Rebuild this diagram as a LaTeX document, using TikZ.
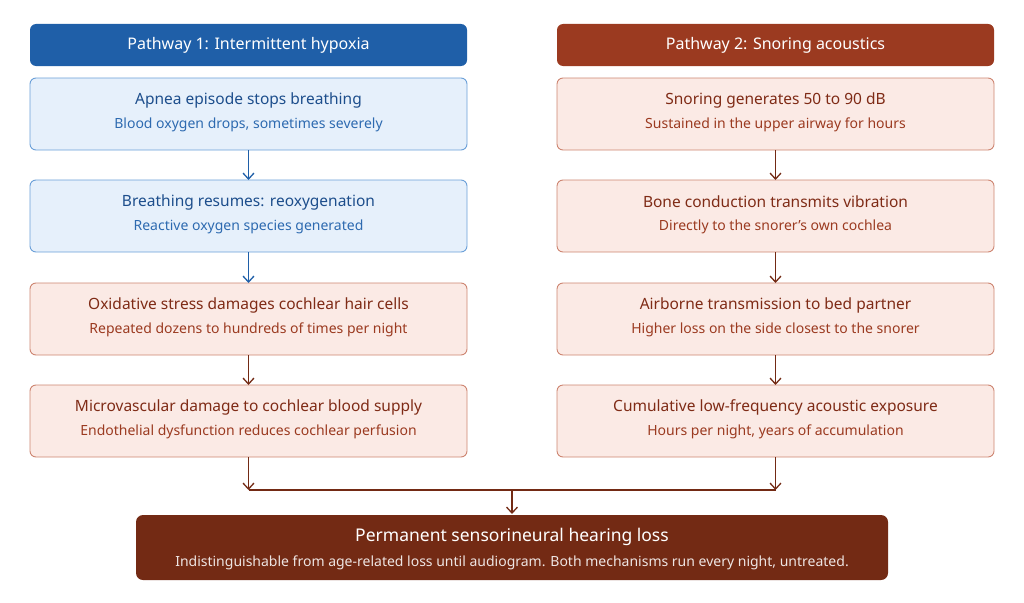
\documentclass[tikz,border=0pt]{standalone}
\usepackage{fontspec}
\setmainfont{Noto Sans}
\usetikzlibrary{arrows.meta}
\definecolor{bhead}{HTML}{1F5FA8}
\definecolor{ohead}{HTML}{9B3A20}
\definecolor{bfill}{HTML}{E6F0FB}
\definecolor{bline}{HTML}{6A9FD8}
\definecolor{btext}{HTML}{1D4E8C}
\definecolor{bsub}{HTML}{2D6AB0}
\definecolor{ofill}{HTML}{FBEAE5}
\definecolor{oline}{HTML}{CD8470}
\definecolor{otext}{HTML}{7F2B16}
\definecolor{osub}{HTML}{9B3A20}
\definecolor{final}{HTML}{732A14}
\begin{document}
\begin{tikzpicture}[x=1pt,y=-1pt,
  head/.style={rounded corners=6pt,text=white,font=\fontsize{16}{19}\selectfont\bfseries},
  bbox/.style={draw=bline,fill=bfill,rounded corners=6pt,line width=0.9pt},
  obox/.style={draw=oline,fill=ofill,rounded corners=6pt,line width=0.9pt},
  ttl/.style={font=\fontsize{15.5}{18}\selectfont\bfseries},
  sub/.style={font=\fontsize{14}{17}\selectfont},
  arr/.style={line width=1.5pt,-{Straight Barb[length=6pt,width=11pt,line width=1.3pt]}},
]
\useasboundingbox (0,0) rectangle (1024,602);
\fill[bhead,rounded corners=6pt] (30,24) rectangle (467,66);
\node[head] (h1) at (248.5,45) {Pathway 1: Intermittent hypoxia};
\fill[ohead,rounded corners=6pt] (557,24) rectangle (994,66);
\node[head] (h2) at (775.5,45) {Pathway 2: Snoring acoustics};

% left column
\newcommand{\mybox}[7]{%
  \path[#1] (#2,#3) rectangle ++(437,72);
  \node[ttl,text=#4] at (#2+218.5,#3+22) {#6};
  \node[sub,text=#5] at (#2+218.5,#3+47) {#7};
  \coordinate (#1#2#3t) at (#2+218.5,#3);
}
\mybox{bbox}{30}{78}{btext}{bsub}{Apnea episode stops breathing}{Blood oxygen drops, sometimes severely}
\mybox{bbox}{30}{180}{btext}{bsub}{Breathing resumes: reoxygenation}{Reactive oxygen species generated}
\mybox{obox}{30}{283}{otext}{osub}{Oxidative stress damages cochlear hair cells}{Repeated dozens to hundreds of times per night}
\mybox{obox}{30}{385}{otext}{osub}{Microvascular damage to cochlear blood supply}{Endothelial dysfunction reduces cochlear perfusion}
\mybox{obox}{557}{78}{otext}{osub}{Snoring generates 50 to 90 dB}{Sustained in the upper airway for hours}
\mybox{obox}{557}{180}{otext}{osub}{Bone conduction transmits vibration}{Directly to the snorer's own cochlea}
\mybox{obox}{557}{283}{otext}{osub}{Airborne transmission to bed partner}{Higher loss on the side closest to the snorer}
\mybox{obox}{557}{385}{otext}{osub}{Cumulative low-frequency acoustic exposure}{Hours per night, years of accumulation}

\coordinate (l1) at (248.5,150); \coordinate (l2) at (248.5,180);
\coordinate (l3) at (248.5,252); \coordinate (l4) at (248.5,283);
\coordinate (l5) at (248.5,355); \coordinate (l6) at (248.5,385);
\coordinate (l7) at (248.5,457); \coordinate (l8) at (248.5,490);
\coordinate (r1) at (775.5,150); \coordinate (r2) at (775.5,180);
\coordinate (r3) at (775.5,252); \coordinate (r4) at (775.5,283);
\coordinate (r5) at (775.5,355); \coordinate (r6) at (775.5,385);
\coordinate (r7) at (775.5,457); \coordinate (r8) at (775.5,490);
\coordinate (m1) at (512,490); \coordinate (m2) at (512,514);
\draw[arr,draw=bhead] (l1) -- (l2);
\draw[arr,draw=bhead] (l3) -- (l4);
\draw[arr,draw=final] (l5) -- (l6);
\draw[arr,draw=final] (l7) -- (l8);
\draw[arr,draw=final] (r1) -- (r2);
\draw[arr,draw=final] (r3) -- (r4);
\draw[arr,draw=final] (r5) -- (r6);
\draw[arr,draw=final] (r7) -- (r8);
\draw[line width=1.5pt,draw=final] (l8) -- (r8);
\draw[arr,draw=final] (m1) -- (m2);

\fill[final,rounded corners=7pt] (136,515) rectangle (888,580);
\node[text=white,font=\fontsize{17.5}{21}\selectfont\bfseries] (f1) at (512,537) {Permanent sensorineural hearing loss};
\node[text=white!88!final,font=\fontsize{14}{17}\selectfont] (f2) at (512,563) {Indistinguishable from age-related loss until audiogram. Both mechanisms run every night, untreated.};
\end{tikzpicture}
\end{document}
